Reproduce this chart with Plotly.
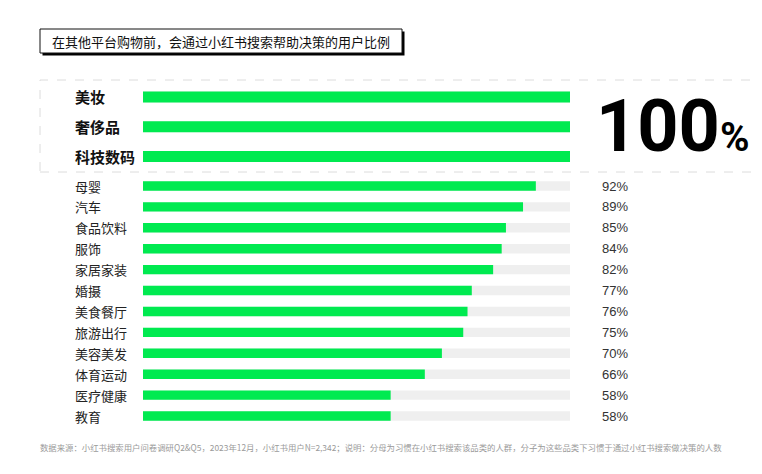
import plotly.graph_objects as go

# top group: all at 100%
top_cats = ["美妆", "奢侈品", "科技数码"]
top_vals = [100, 100, 100]

# remaining categories
cats = ["母婴", "汽车", "食品饮料", "服饰", "家居家装", "婚摄",
        "美食餐厅", "旅游出行", "美容美发", "体育运动", "医疗健康", "教育"]
vals = [92, 89, 85, 84, 82, 77, 76, 75, 70, 66, 58, 58]

title_text = "在其他平台购物前，会通过小红书搜索帮助决策的用户比例"
note_text = ("数据来源：小红书搜索用户问卷调研Q2&Q5，2023年12月，小红书用户N=2,342；"
             "说明：分母为习惯在小红书搜索该品类的人群，分子为这些品类下习惯于通过小红书搜索做决策的人数")

W, H = 762, 474
OFF = 8  # page body margin
GREEN = "#00EA50"
TRACK = "#EFEFEF"
CJK = "Noto Sans CJK SC"


def px_x(p):
    return (p - OFF) / W


def px_y(p):
    return 1 - (p - OFF) / H


fig = go.Figure()

# top three bars
fig.add_trace(go.Bar(x=[100] * len(top_cats), y=top_cats, orientation="h",
                     marker=dict(color=TRACK, line_width=0), width=0.37,
                     xaxis="x", yaxis="y", hoverinfo="skip"))
fig.add_trace(go.Bar(x=top_vals, y=top_cats, orientation="h",
                     marker=dict(color=GREEN, line_width=0), width=0.37,
                     xaxis="x", yaxis="y"))

# lower bars with grey track
fig.add_trace(go.Bar(x=[100] * len(cats), y=cats, orientation="h",
                     marker=dict(color=TRACK, line_width=0), width=0.45,
                     xaxis="x2", yaxis="y2", hoverinfo="skip"))
fig.add_trace(go.Bar(x=vals, y=cats, orientation="h",
                     marker=dict(color=GREEN, line_width=0), width=0.45,
                     xaxis="x2", yaxis="y2"))

xdom = [px_x(143), px_x(570)]
ax = dict(domain=xdom, range=[0, 100], showgrid=False, zeroline=False,
          showticklabels=False, fixedrange=True)
fig.update_layout(
    xaxis=dict(ax, anchor="y"),
    xaxis2=dict(ax, anchor="y2"),
    yaxis=dict(domain=[px_y(171.5), px_y(82)], autorange="reversed",
               showticklabels=False, showgrid=False, anchor="x"),
    yaxis2=dict(domain=[px_y(427.5), px_y(174.5)], autorange="reversed",
                showticklabels=False, showgrid=False, anchor="x2"),
    barmode="overlay",
    showlegend=False,
    width=W, height=H,
    margin=dict(l=0, r=0, t=0, b=0),
    paper_bgcolor="white",
    plot_bgcolor="white",
    font=dict(family=CJK, color="#222"),
)

ann = []
for c in top_cats:
    ann.append(dict(x=px_x(73), xref="paper", y=c, yref="y", text="<b>%s</b>" % c,
                    showarrow=False, xanchor="left", yanchor="middle",
                    font=dict(size=15, color="#111", family=CJK)))
for c, v in zip(cats, vals):
    ann.append(dict(x=px_x(73), xref="paper", y=c, yref="y2", text=c,
                    showarrow=False, xanchor="left", yanchor="middle",
                    font=dict(size=13, color="#222", family=CJK)))
    ann.append(dict(x=px_x(600), xref="paper", y=c, yref="y2", text="%d%%" % v,
                    showarrow=False, xanchor="left", yanchor="middle",
                    font=dict(size=13, color="#333", family="Liberation Sans")))

# big 100% callout
ann.append(dict(x=px_x(594), xref="paper", y=px_y(126), yref="paper",
                text="<b>%d</b><b><span style='font-size:40px'>%%</span></b>" % top_vals[0],
                showarrow=False, xanchor="left", yanchor="middle",
                font=dict(size=72, color="#000", family="Roboto")))

# title box text
ann.append(dict(x=px_x(221), xref="paper", y=px_y(41), yref="paper", text=title_text,
                showarrow=False, xanchor="center", yanchor="middle",
                font=dict(size=13, color="#111", family=CJK)))

# footnote
ann.append(dict(x=px_x(38), xref="paper", y=px_y(447), yref="paper", text=note_text,
                showarrow=False, xanchor="left", yanchor="middle",
                font=dict(size=8.4, color="#9a9a9a", family=CJK)))

fig.update_layout(annotations=ann)

shapes = [
    # title shadow + box
    dict(type="rect", xref="paper", yref="paper",
         x0=px_x(42.5), x1=px_x(404.5), y0=px_y(55.5), y1=px_y(31.5),
         fillcolor="#000", line_width=0, layer="below"),
    dict(type="rect", xref="paper", yref="paper",
         x0=px_x(40), x1=px_x(402), y0=px_y(53), y1=px_y(29),
         fillcolor="white", line=dict(color="#111", width=1), layer="below"),
    # dashed frame round the top group
    dict(type="rect", xref="paper", yref="paper",
         x0=px_x(40), x1=px_x(790), y0=px_y(172), y1=px_y(80),
         fillcolor="rgba(0,0,0,0)", line=dict(color="#dcdcdc", width=1, dash="dash"),
         layer="below"),
]
fig.update_layout(shapes=shapes)

fig.write_html("out.html")
